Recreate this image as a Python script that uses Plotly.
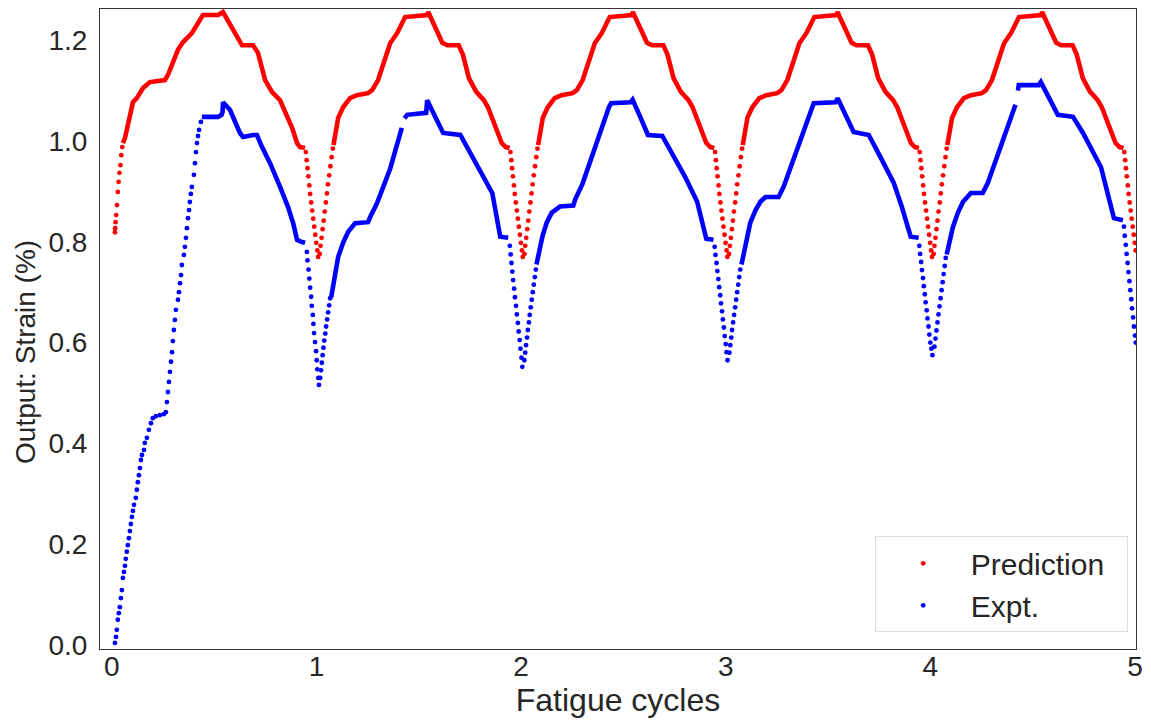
import plotly.graph_objects as go

# ---------------- Prediction (red) ----------------
# densely sampled stretches (drawn as a continuous trace), one list per cycle
pred_c0_x = [0.054, 0.064, 0.103, 0.122, 0.152, 0.186, 0.259, 0.274, 0.323, 0.347, 0.391, 0.431, 0.445,
             0.519, 0.543, 0.602, 0.636, 0.690, 0.714, 0.749, 0.783, 0.822, 0.837, 0.881, 0.905, 0.920, 0.944]
pred_c0_y = [0.996, 1.006, 1.077, 1.085, 1.105, 1.117, 1.121, 1.131, 1.181, 1.196, 1.214, 1.244, 1.250,
             1.250, 1.256, 1.214, 1.190, 1.190, 1.175, 1.121, 1.097, 1.081, 1.067, 1.026, 0.996, 0.988, 0.986]
pred_c1_x = [1.083, 1.091, 1.106, 1.130, 1.164, 1.198, 1.252, 1.272, 1.301, 1.360, 1.394, 1.433, 1.541, 1.546,
             1.585, 1.615, 1.640, 1.695, 1.715, 1.745, 1.780, 1.818, 1.838, 1.880, 1.905, 1.925, 1.944]
pred_c1_y = [0.992, 1.016, 1.046, 1.067, 1.085, 1.091, 1.095, 1.101, 1.121, 1.194, 1.214, 1.246, 1.250, 1.256,
             1.222, 1.195, 1.190, 1.190, 1.172, 1.125, 1.098, 1.081, 1.067, 1.026, 0.996, 0.988, 0.986]
pred_c2_x = [2.083, 2.091, 2.106, 2.130, 2.164, 2.198, 2.252, 2.272, 2.301, 2.360, 2.394, 2.433, 2.541, 2.546,
             2.585, 2.615, 2.640, 2.695, 2.715, 2.745, 2.780, 2.818, 2.838, 2.880, 2.905, 2.925, 2.944]
pred_c2_y = [0.992, 1.016, 1.046, 1.067, 1.085, 1.091, 1.095, 1.101, 1.121, 1.194, 1.214, 1.246, 1.250, 1.256,
             1.222, 1.195, 1.190, 1.190, 1.172, 1.125, 1.098, 1.081, 1.067, 1.026, 0.996, 0.988, 0.986]
pred_c3_x = [3.083, 3.091, 3.106, 3.130, 3.164, 3.198, 3.252, 3.272, 3.301, 3.360, 3.394, 3.433, 3.541, 3.546,
             3.585, 3.615, 3.640, 3.695, 3.715, 3.745, 3.780, 3.818, 3.838, 3.880, 3.905, 3.925, 3.944]
pred_c3_y = [0.992, 1.016, 1.046, 1.067, 1.085, 1.091, 1.095, 1.101, 1.121, 1.194, 1.214, 1.246, 1.250, 1.256,
             1.222, 1.195, 1.190, 1.190, 1.172, 1.125, 1.098, 1.081, 1.067, 1.026, 0.996, 0.988, 0.986]
pred_c4_x = [4.083, 4.091, 4.106, 4.130, 4.164, 4.198, 4.252, 4.272, 4.301, 4.360, 4.394, 4.433, 4.541, 4.546,
             4.585, 4.615, 4.640, 4.695, 4.715, 4.745, 4.780, 4.818, 4.838, 4.880, 4.905, 4.925, 4.944]
pred_c4_y = [0.992, 1.016, 1.046, 1.067, 1.085, 1.091, 1.095, 1.101, 1.121, 1.194, 1.214, 1.246, 1.250, 1.256,
             1.222, 1.195, 1.190, 1.190, 1.172, 1.125, 1.098, 1.081, 1.067, 1.026, 0.996, 0.988, 0.986]

# sparse (individually visible) samples: start and the dips at each cycle boundary
pred_start_x = [0.015, 0.016, 0.018, 0.021, 0.025, 0.029, 0.033, 0.037, 0.042, 0.046, 0.051]
pred_start_y = [0.819, 0.827, 0.839, 0.853, 0.873, 0.899, 0.919, 0.937, 0.952, 0.972, 0.988]
pred_dip1_x = [0.948, 0.952, 0.956, 0.960, 0.965, 0.969, 0.974, 0.979, 0.984, 0.989, 0.994, 0.999, 1.004, 1.008,
               1.016, 1.020, 1.025, 1.030, 1.035, 1.040, 1.046, 1.051, 1.056, 1.062, 1.068, 1.074, 1.080]
pred_dip1_y = [0.978, 0.962, 0.946, 0.930, 0.912, 0.895, 0.878, 0.862, 0.846, 0.830, 0.814, 0.798, 0.783, 0.770,
               0.776, 0.792, 0.808, 0.825, 0.842, 0.860, 0.878, 0.896, 0.914, 0.932, 0.950, 0.968, 0.985]
pred_dip2_x = [1.948, 1.952, 1.956, 1.960, 1.965, 1.969, 1.974, 1.979, 1.984, 1.989, 1.994, 1.999, 2.004, 2.008,
               2.016, 2.020, 2.025, 2.030, 2.035, 2.040, 2.046, 2.051, 2.056, 2.062, 2.068, 2.074, 2.080]
pred_dip2_y = [0.978, 0.962, 0.946, 0.930, 0.912, 0.895, 0.878, 0.862, 0.846, 0.830, 0.814, 0.798, 0.783, 0.770,
               0.776, 0.792, 0.808, 0.825, 0.842, 0.860, 0.878, 0.896, 0.914, 0.932, 0.950, 0.968, 0.985]
pred_dip3_x = [2.948, 2.952, 2.956, 2.960, 2.965, 2.969, 2.974, 2.979, 2.984, 2.989, 2.994, 2.999, 3.004, 3.008,
               3.016, 3.020, 3.025, 3.030, 3.035, 3.040, 3.046, 3.051, 3.056, 3.062, 3.068, 3.074, 3.080]
pred_dip3_y = [0.978, 0.962, 0.946, 0.930, 0.912, 0.895, 0.878, 0.862, 0.846, 0.830, 0.814, 0.798, 0.783, 0.770,
               0.776, 0.792, 0.808, 0.825, 0.842, 0.860, 0.878, 0.896, 0.914, 0.932, 0.950, 0.968, 0.985]
pred_dip4_x = [3.948, 3.952, 3.956, 3.960, 3.965, 3.969, 3.974, 3.979, 3.984, 3.989, 3.994, 3.999, 4.004, 4.008,
               4.016, 4.020, 4.025, 4.030, 4.035, 4.040, 4.046, 4.051, 4.056, 4.062, 4.068, 4.074, 4.080]
pred_dip4_y = [0.978, 0.962, 0.946, 0.930, 0.912, 0.895, 0.878, 0.862, 0.846, 0.830, 0.814, 0.798, 0.783, 0.770,
               0.776, 0.792, 0.808, 0.825, 0.842, 0.860, 0.878, 0.896, 0.914, 0.932, 0.950, 0.968, 0.985]
pred_end_x = [4.948, 4.952, 4.956, 4.960, 4.965, 4.969, 4.974, 4.979, 4.984, 4.989, 4.994, 4.999, 5.003]
pred_end_y = [0.978, 0.962, 0.946, 0.930, 0.912, 0.895, 0.878, 0.862, 0.846, 0.830, 0.814, 0.798, 0.783]

# ---------------- Expt. (blue) ----------------
expt_c0_x = [0.440, 0.519, 0.536, 0.541, 0.543, 0.577, 0.626, 0.641, 0.690, 0.709, 0.734, 0.773, 0.822,
             0.861, 0.886, 0.905, 0.925, 0.944]
expt_c0_y = [1.048, 1.048, 1.052, 1.058, 1.077, 1.062, 1.016, 1.008, 1.012, 1.012, 0.988, 0.956, 0.909,
             0.869, 0.837, 0.804, 0.800, 0.798]
expt_c1_x = [1.072, 1.091, 1.106, 1.130, 1.155, 1.189, 1.252, 1.262, 1.296, 1.360, 1.417, None, 1.430, 1.443,
             1.536, 1.541, 1.580, 1.619, 1.703, 1.751, 1.800, 1.859, 1.898, 1.937]
expt_c1_y = [0.690, 0.734, 0.770, 0.798, 0.820, 0.837, 0.839, 0.849, 0.877, 0.945, 1.026, None, 1.045, 1.052,
             1.056, 1.081, 1.048, 1.016, 1.012, 0.976, 0.942, 0.897, 0.810, 0.808]
expt_c2_x = [2.075, 2.090, 2.105, 2.125, 2.150, 2.190, 2.255, 2.265, 2.300, 2.430, 2.440, 2.535, 2.545,
             2.580, 2.620, 2.690, 2.740, 2.800, 2.860, 2.905, 2.940]
expt_c2_y = [0.755, 0.785, 0.812, 0.838, 0.858, 0.870, 0.872, 0.885, 0.915, 1.068, 1.075, 1.077, 1.082,
             1.050, 1.012, 1.010, 0.975, 0.930, 0.880, 0.806, 0.804]
expt_c3_x = [3.077, 3.100, 3.120, 3.146, 3.170, 3.195, 3.258, 3.283, 3.430, 3.537, 3.547, 3.625, 3.699,
             3.760, 3.821, 3.860, 3.904, 3.943]
expt_c3_y = [0.755, 0.805, 0.838, 0.863, 0.880, 0.889, 0.889, 0.909, 1.075, 1.077, 1.085, 1.018, 1.012,
             0.965, 0.917, 0.870, 0.810, 0.808]
expt_c4_x = [4.080, 4.095, 4.110, 4.135, 4.159, 4.198, 4.256, 4.281, 4.416, None, 4.428, 4.432, 4.530, 4.540,
             4.623, 4.697, 4.746, 4.834, 4.897, 4.941]
expt_c4_y = [0.775, 0.805, 0.829, 0.858, 0.879, 0.897, 0.897, 0.917, 1.072, None, 1.100, 1.111, 1.111, 1.117,
             1.052, 1.048, 1.016, 0.948, 0.847, 0.843]

expt_start_x = [0.015, 0.020, 0.024, 0.029, 0.034, 0.039, 0.044, 0.049, 0.054, 0.059,
                0.064, 0.068, 0.073, 0.078, 0.083, 0.088, 0.093, 0.098, 0.103, 0.108,
                0.117, 0.122, 0.127, 0.132, 0.137, 0.142, 0.147, 0.157, 0.161, 0.171,
                0.181, 0.191, 0.200, 0.215, 0.235, 0.254, 0.264, 0.269, 0.274, 0.279,
                0.284, 0.289, 0.294, 0.298, 0.303, 0.308, 0.313, 0.323, 0.328, 0.333,
                0.338, 0.342, 0.352, 0.357, 0.362, 0.367, 0.372, 0.377, 0.381, 0.386,
                0.391, 0.401, 0.406, 0.411, 0.416, 0.421, 0.426, 0.435]
expt_start_y = [0.004, 0.016, 0.030, 0.050, 0.063, 0.075, 0.093, 0.109, 0.133, 0.145,
                0.157, 0.171, 0.185, 0.198, 0.212, 0.226, 0.240, 0.254, 0.266, 0.278,
                0.292, 0.308, 0.323, 0.337, 0.351, 0.367, 0.377, 0.387, 0.401, 0.411,
                0.427, 0.440, 0.450, 0.454, 0.456, 0.458, 0.462, 0.482, 0.502, 0.522,
                0.542, 0.562, 0.581, 0.603, 0.625, 0.645, 0.665, 0.685, 0.700, 0.718,
                0.734, 0.754, 0.774, 0.790, 0.808, 0.827, 0.847, 0.863, 0.879, 0.895,
                0.909, 0.933, 0.956, 0.978, 0.996, 1.010, 1.022, 1.038]
expt_dip1_x = [0.953, 0.956, 0.961, 0.965, 0.969, 0.974, 0.977, 0.982, 0.985, 0.988, 0.993, 0.998, 1.001, 1.004,
               1.009, 1.012, 1.018, 1.022, 1.026, 1.030, 1.034, 1.038, 1.043, 1.047, 1.052, 1.057, 1.062, 1.067]
expt_dip1_y = [0.780, 0.763, 0.745, 0.727, 0.709, 0.691, 0.673, 0.655, 0.637, 0.619, 0.601, 0.583, 0.565, 0.547,
               0.530, 0.516, 0.530, 0.545, 0.560, 0.575, 0.590, 0.604, 0.618, 0.632, 0.646, 0.660, 0.674, 0.688]
expt_dip2_x = [1.945, 1.949, 1.953, 1.957, 1.961, 1.966, 1.970, 1.975, 1.979, 1.984, 1.988, 1.993, 1.997, 2.002,
               2.006, 2.016, 2.020, 2.024, 2.029, 2.033, 2.038, 2.042, 2.047, 2.052, 2.057, 2.062, 2.067, 2.072]
expt_dip2_y = [0.792, 0.775, 0.758, 0.741, 0.724, 0.707, 0.690, 0.673, 0.656, 0.639, 0.622, 0.605, 0.588, 0.570,
               0.552, 0.565, 0.580, 0.595, 0.610, 0.625, 0.640, 0.655, 0.670, 0.685, 0.700, 0.715, 0.730, 0.745]
expt_dip3_x = [2.946, 2.950, 2.955, 2.959, 2.964, 2.968, 2.973, 2.977, 2.982, 2.986, 2.991, 2.995, 3.000, 3.004,
               3.009, 3.018, 3.022, 3.027, 3.031, 3.036, 3.041, 3.046, 3.051, 3.056, 3.061, 3.066, 3.071]
expt_dip3_y = [0.790, 0.774, 0.758, 0.742, 0.726, 0.710, 0.694, 0.678, 0.662, 0.646, 0.630, 0.613, 0.597, 0.581,
               0.565, 0.580, 0.595, 0.610, 0.625, 0.640, 0.655, 0.670, 0.685, 0.700, 0.715, 0.730, 0.745]
expt_dip4_x = [3.946, 3.950, 3.955, 3.959, 3.964, 3.968, 3.973, 3.977, 3.982, 3.986, 3.991, 3.995, 4.000, 4.005,
               4.010, 4.020, 4.025, 4.030, 4.035, 4.040, 4.045, 4.050, 4.055, 4.060, 4.065, 4.070, 4.075]
expt_dip4_y = [0.792, 0.776, 0.760, 0.744, 0.728, 0.712, 0.696, 0.680, 0.664, 0.648, 0.632, 0.616, 0.600, 0.588,
               0.575, 0.592, 0.608, 0.624, 0.640, 0.656, 0.672, 0.688, 0.704, 0.720, 0.736, 0.752, 0.768]
expt_end_x = [4.946, 4.950, 4.955, 4.959, 4.964, 4.968, 4.973, 4.977, 4.982, 4.986, 4.991, 4.995, 5.000, 5.004]
expt_end_y = [0.830, 0.812, 0.794, 0.776, 0.758, 0.740, 0.722, 0.704, 0.686, 0.668, 0.650, 0.632, 0.614, 0.600]

x_ticks = [0, 1, 2, 3, 4, 5]
x_tick_text = ["0", "1", "2", "3", "4", "5"]
y_ticks = [0.0, 0.2, 0.4, 0.6, 0.8, 1.0, 1.2]
y_tick_text = ["0.0", "0.2", "0.4", "0.6", "0.8", "1.0", "1.2"]


def joined(parts):
    out = []
    for i, p in enumerate(parts):
        if i:
            out.append(None)
        out.extend(p)
    return out


RED = "#ff0000"
BLUE = "#0000ff"
FONT = "Liberation Sans, Arial, sans-serif"
TEXT = "#262626"
NBSP = "\u00a0"

pred_line_x = joined([pred_c0_x, pred_c1_x, pred_c2_x, pred_c3_x, pred_c4_x])
pred_line_y = joined([pred_c0_y, pred_c1_y, pred_c2_y, pred_c3_y, pred_c4_y])
pred_dot_x = pred_start_x + pred_dip1_x + pred_dip2_x + pred_dip3_x + pred_dip4_x + pred_end_x
pred_dot_y = pred_start_y + pred_dip1_y + pred_dip2_y + pred_dip3_y + pred_dip4_y + pred_end_y

expt_line_x = joined([expt_c0_x, expt_c1_x, expt_c2_x, expt_c3_x, expt_c4_x])
expt_line_y = joined([expt_c0_y, expt_c1_y, expt_c2_y, expt_c3_y, expt_c4_y])
expt_dot_x = expt_start_x + expt_dip1_x + expt_dip2_x + expt_dip3_x + expt_dip4_x + expt_end_x
expt_dot_y = expt_start_y + expt_dip1_y + expt_dip2_y + expt_dip3_y + expt_dip4_y + expt_end_y

fig = go.Figure()
fig.add_trace(go.Scatter(x=pred_line_x, y=pred_line_y, mode="lines",
                         line=dict(color=RED, width=4.6), showlegend=False,
                         legendgroup="pred", hoverinfo="skip"))
fig.add_trace(go.Scatter(x=pred_dot_x, y=pred_dot_y, mode="markers", name="Prediction" + NBSP * 2,
                         marker=dict(color=RED, size=4.8, line=dict(width=0)),
                         legendgroup="pred"))
fig.add_trace(go.Scatter(x=expt_line_x, y=expt_line_y, mode="lines",
                         line=dict(color=BLUE, width=4.6), showlegend=False,
                         legendgroup="expt", hoverinfo="skip"))
fig.add_trace(go.Scatter(x=expt_dot_x, y=expt_dot_y, mode="markers", name="Expt.",
                         marker=dict(color=BLUE, size=4.8, line=dict(width=0)),
                         legendgroup="expt"))

fig.update_layout(
    width=1151, height=725,
    margin=dict(l=100, r=15, t=9, b=76),
    paper_bgcolor="white", plot_bgcolor="white",
    font=dict(family=FONT, color=TEXT),
    legend=dict(x=0.992, y=0.026, xanchor="right", yanchor="bottom",
                bgcolor="rgba(255,255,255,0.85)", bordercolor="#dedede", borderwidth=1,
                font=dict(size=30, family=FONT, color=TEXT),
                itemwidth=85, tracegroupgap=0),
    annotations=[dict(text="Output: Strain (%)", textangle=-90, xref="paper", yref="paper",
                      x=-0.0725, y=0.464, xanchor="center", yanchor="middle", showarrow=False,
                      font=dict(size=28, family=FONT, color=TEXT))],
)
fig.update_xaxes(range=[-0.058, 5.005], tickvals=x_ticks, ticktext=x_tick_text,
                 showgrid=False, zeroline=False, showline=True, mirror=True,
                 linecolor="#333333", linewidth=1, ticks="",
                 tickfont=dict(size=28), ticklabelstandoff=-8,
                 title=dict(text="Fatigue cycles", font=dict(size=32), standoff=8))
fig.update_yaxes(range=[-0.008, 1.262], tickvals=y_ticks, ticktext=y_tick_text,
                 showgrid=False, zeroline=False, showline=True, mirror=True,
                 linecolor="#333333", linewidth=1, ticks="",
                 tickfont=dict(size=28), ticklabelstandoff=6)

fig.write_html("out.html", config={"displayModeBar": False},
               post_script="document.body.style.margin='0px';")
